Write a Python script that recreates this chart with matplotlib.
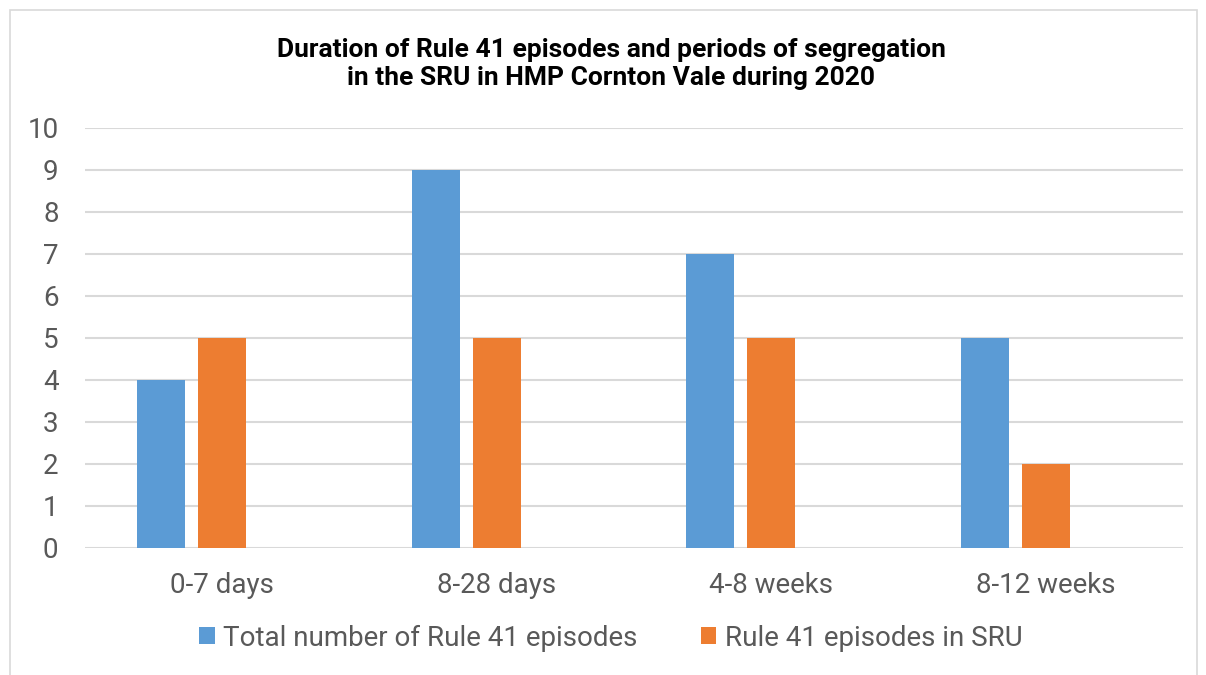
import numpy as np
import matplotlib.pyplot as plt
from matplotlib.patches import Rectangle

plt.rcParams["font.family"] = ["Roboto", "DejaVu Sans"]

categories = ["0-7 days", "8-28 days", "4-8 weeks", "8-12 weeks"]
total_episodes = [4, 9, 7, 5]
sru_episodes = [5, 5, 5, 2]
series_names = ["Total number of Rule 41 episodes", "Rule 41 episodes in SRU"]

blue = "#5B9BD5"
orange = "#ED7D31"
grey_text = "#595959"

fig = plt.figure(figsize=(12.06, 6.75), dpi=100)
ax = fig.add_axes([85 / 1206, 1 - 548 / 675, (1183 - 85) / 1206, 420 / 675])

x = np.arange(len(categories))
w = 0.175
step = 0.222
ax.bar(x - step, total_episodes, width=w, color=blue, label=series_names[0], zorder=3)
ax.bar(x, sru_episodes, width=w, color=orange, label=series_names[1], zorder=3)

ax.set_xlim(-0.5, len(categories) - 0.5)
ax.set_ylim(0, 10)
ax.set_yticks(range(0, 11))
ax.set_xticks(x)
ax.set_xticklabels(categories)
ax.grid(axis="y", color="#D9D9D9", linewidth=1.5, zorder=0)
for s in ax.spines.values():
    s.set_visible(False)
ax.tick_params(axis="both", length=0, labelsize=20, colors=grey_text)
ax.tick_params(axis="x", pad=17)
ax.tick_params(axis="y", pad=19)

fig.text(0.5066, 1 - 64 / 675,
         "Duration of Rule 41 episodes and periods of segregation\nin the SRU in HMP Cornton Vale during 2020",
         ha="center", va="center", fontsize=19, fontweight="bold", color="black", linespacing=1.2)

fig.legend(loc="center", bbox_to_anchor=(0.5066, 1 - 638 / 675), ncol=2, frameon=False,
           fontsize=20, labelcolor=grey_text, handlelength=0.55, handleheight=0.55,
           handletextpad=0.3, columnspacing=2.3)

fig.patches.append(Rectangle((10 / 1206, -0.01), 1187 / 1206, 1 - 10 / 675 + 0.01,
                             transform=fig.transFigure, fill=False,
                             edgecolor="#D9D9D9", linewidth=1.2))

fig.savefig("out.png", dpi=100)
